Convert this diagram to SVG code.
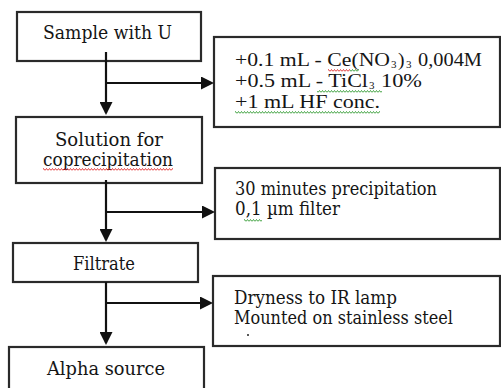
<svg xmlns="http://www.w3.org/2000/svg" width="501" height="388" viewBox="0 0 501 388">
  <style>
    .box { fill: #ffffff; stroke: #2a2a2a; stroke-width: 2.2; }
    .lbl { font-family: "DejaVu Serif", "Liberation Serif", serif; font-size: 18px; fill: #151515; }
    .tnr { font-family: "Liberation Serif", "Times New Roman", serif; font-size: 19.5px; fill: #151515; }
    .sub { font-family: "Liberation Serif", "Times New Roman", serif; font-size: 11px; fill: #151515; }
    .wire { fill: none; stroke: #111111; stroke-width: 2.2; }
  </style>
  <defs>
    <marker id="head" markerUnits="userSpaceOnUse" markerWidth="13" markerHeight="13" refX="11" refY="6.5" orient="auto">
      <path d="M0,0 L13,6.5 L0,13 Z" fill="#111111"/>
    </marker>
    <pattern id="squigRed" patternUnits="userSpaceOnUse" x="0" y="0" width="3" height="3">
      <path d="M0,2.5 L1.5,0.5 L3,2.5" fill="none" stroke="#e02a2a" stroke-width="0.9"/>
    </pattern>
    <pattern id="squigGreen" patternUnits="userSpaceOnUse" x="0" y="0" width="3" height="3">
      <path d="M0,2.5 L1.5,0.5 L3,2.5" fill="none" stroke="#2f9a2f" stroke-width="0.9"/>
    </pattern>
  </defs>

  <!-- main process steps -->
  <g id="sample">
    <rect class="box" x="17" y="12" width="184" height="49"/>
    <text class="lbl" x="43" y="39" textLength="129" lengthAdjust="spacingAndGlyphs">Sample with U</text>
  </g>

  <g id="solution">
    <rect class="box" x="16" y="117" width="186" height="66"/>
    <text class="lbl" x="55" y="146" textLength="108" lengthAdjust="spacingAndGlyphs">Solution for</text>
    <text class="lbl" x="43" y="166" textLength="130" lengthAdjust="spacingAndGlyphs">coprecipitation</text>
    <rect x="43" y="168" width="130" height="3" fill="url(#squigRed)"/>
  </g>

  <g id="filtrate">
    <rect class="box" x="13" y="243" width="185" height="39"/>
    <text class="lbl" x="73" y="270" textLength="62" lengthAdjust="spacingAndGlyphs">Filtrate</text>
  </g>

  <g id="alpha">
    <rect class="box" x="9" y="347" width="195" height="50"/>
    <text class="lbl" x="47" y="375" textLength="118" lengthAdjust="spacingAndGlyphs">Alpha source</text>
  </g>

  <!-- side notes -->
  <g id="reagents">
    <rect class="box" x="214" y="37" width="286" height="90"/>
    <text class="tnr" x="235" y="66" textLength="155" lengthAdjust="spacingAndGlyphs">+0.1 mL - Ce(NO</text>
    <text class="sub" x="391" y="67.5">3</text>
    <text class="tnr" x="398" y="66">)</text>
    <text class="sub" x="406" y="67.5">3</text>
    <text class="tnr" x="418" y="66" textLength="64" lengthAdjust="spacingAndGlyphs">0,004M</text>
    <text class="tnr" x="235" y="87" textLength="133" lengthAdjust="spacingAndGlyphs">+0.5 mL -  TiCl</text>
    <text class="sub" x="369" y="88.5">3</text>
    <text class="tnr" x="381" y="87" textLength="41" lengthAdjust="spacingAndGlyphs">10%</text>
    <text class="tnr" x="235" y="108" textLength="145" lengthAdjust="spacingAndGlyphs">+1 mL HF conc.</text>
    <rect x="328" y="69" width="22" height="3" fill="url(#squigRed)"/>
    <rect x="350" y="69" width="9" height="3" fill="url(#squigGreen)"/>
    <rect x="317" y="90" width="65" height="3" fill="url(#squigGreen)"/>
    <rect x="235" y="111" width="145" height="3" fill="url(#squigGreen)"/>
  </g>

  <g id="precipitation">
    <rect class="box" x="215" y="168" width="285" height="71"/>
    <text class="lbl" x="235" y="195" textLength="202" lengthAdjust="spacingAndGlyphs">30 minutes precipitation</text>
    <text class="lbl" x="235" y="215" textLength="105" lengthAdjust="spacingAndGlyphs">0,1 µm filter</text>
    <rect x="244" y="219" width="18" height="3" fill="url(#squigGreen)"/>
  </g>

  <g id="mounting">
    <rect class="box" x="213" y="276" width="287" height="70"/>
    <text class="lbl" x="234" y="304" textLength="163" lengthAdjust="spacingAndGlyphs">Dryness to IR lamp</text>
    <text class="lbl" x="234" y="324" textLength="219" lengthAdjust="spacingAndGlyphs">Mounted on stainless steel</text>
    <circle cx="248" cy="335" r="1" fill="#222222"/>
  </g>

  <!-- connectors, drawn last so the stems show inside the source boxes -->
  <g id="connectors">
    <path class="wire" d="M106,52 V113" marker-end="url(#head)"/>
    <path class="wire" d="M106,83 H212" marker-end="url(#head)"/>
    <path class="wire" d="M106,180 V240" marker-end="url(#head)"/>
    <path class="wire" d="M106,212 H213" marker-end="url(#head)"/>
    <path class="wire" d="M106,282 V343" marker-end="url(#head)"/>
    <path class="wire" d="M106,303 H211" marker-end="url(#head)"/>
  </g>
</svg>
